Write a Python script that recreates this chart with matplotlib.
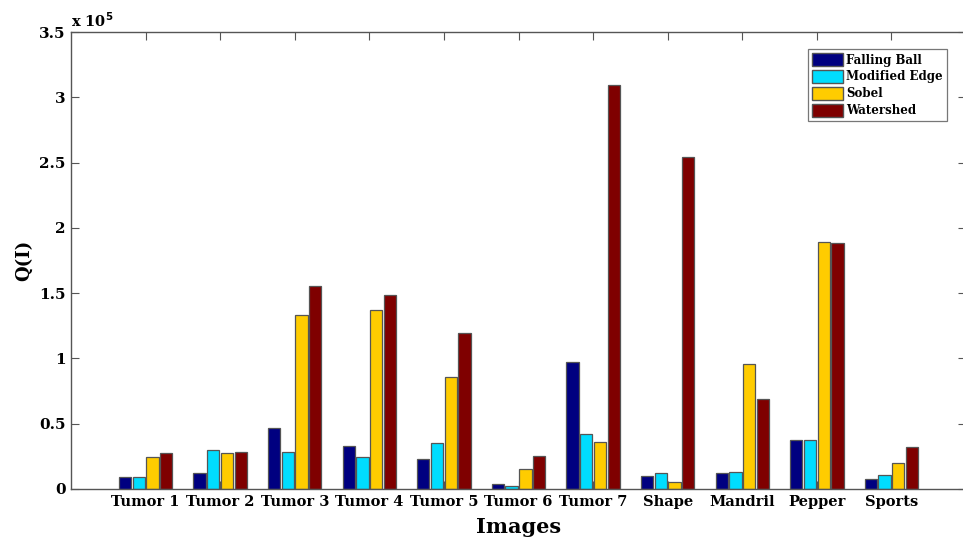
import numpy as np
import matplotlib.pyplot as plt
from matplotlib.patches import Patch

# Values (units of 1e5)
images = ['Tumor 1', 'Tumor 2', 'Tumor 3', 'Tumor 4', 'Tumor 5', 'Tumor 6',
          'Tumor 7', 'Shape', 'Mandril', 'Pepper', 'Sports']
falling_ball = [0.09, 0.125, 0.467, 0.332, 0.232, 0.04, 0.976, 0.102, 0.125, 0.377, 0.077]
modified_edge = [0.09, 0.30, 0.286, 0.245, 0.35, 0.025, 0.42, 0.122, 0.13, 0.377, 0.11]
sobel = [0.243, 0.273, 1.335, 1.372, 0.859, 0.153, 0.357, 0.051, 0.958, 1.89, 0.20]
watershed = [0.273, 0.286, 1.553, 1.486, 1.191, 0.253, 3.097, 2.543, 0.686, 1.885, 0.319]

series = [('Falling Ball', falling_ball, '#000080'),
          ('Modified Edge', modified_edge, '#00DDFF'),
          ('Sobel', sobel, '#FFCC00'),
          ('Watershed', watershed, '#7F0000')]

plt.rcParams['font.family'] = 'DejaVu Serif'
plt.rcParams['font.weight'] = 'bold'

fig = plt.figure(figsize=(9.63, 5.44), dpi=100)
# right spine sits just past the image edge, like the reference crop
ax = fig.add_axes([71 / 963, 55 / 544, 895 / 963, 457 / 544])

x = np.arange(1, len(images) + 1)
slot = 0.184
width = 0.165
for i, (name, vals, color) in enumerate(series):
    ax.bar(x + (i - 1.5) * slot, np.array(vals) * 1e5, width=width, color=color,
           edgecolor='#555555', linewidth=0.9, label=name, zorder=2)

ax.set_xlim(0, 12)
ax.set_ylim(0, 3.5e5)
ax.set_xticks(x)
ax.set_xticklabels(images, fontsize=10.5, fontweight='bold')
yt = np.arange(0, 3.51, 0.5)
ax.set_yticks(yt * 1e5)
ax.set_yticklabels(['0', '0.5', '1', '1.5', '2', '2.5', '3', '3.5'],
                   fontsize=11, fontweight='bold')
ax.tick_params(direction='in', length=6, top=True, right=True, color='#555555', pad=4)
for s in ax.spines.values():
    s.set_color('#555555')
    s.set_linewidth(1.0)

ax.text(0.0, 1.005, 'x 10$^{\\mathbf{5}}$', transform=ax.transAxes, fontsize=10.5,
        fontweight='bold', va='bottom', ha='left')

ax.set_xlabel('Images', fontsize=15, fontweight='bold', labelpad=6)
ax.set_ylabel('Q(I)', fontsize=13, fontweight='bold', labelpad=4)

handles = [Patch(facecolor=c, edgecolor='#555555', label=n) for n, _, c in series]
leg = ax.legend(handles=handles, loc='upper left', bbox_to_anchor=(808 / 963, 1 - 49 / 544),
                bbox_transform=fig.transFigure, fontsize=8.5, frameon=True, fancybox=False,
                handlelength=2.6, handleheight=1.3, handletextpad=0.3, labelspacing=0.3,
                borderpad=0.35, borderaxespad=0)
leg.get_frame().set_edgecolor('#555555')
leg.get_frame().set_linewidth(0.9)
for t in leg.get_texts():
    t.set_fontweight('bold')

fig.savefig('out.png', dpi=100)
